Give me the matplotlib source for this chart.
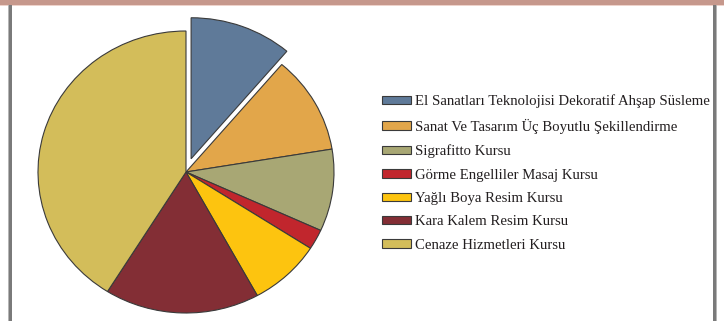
import matplotlib.pyplot as plt
from matplotlib.patches import Rectangle

# course shares (percent of participants)
courses = [
    "El Sanatları Teknolojisi Dekoratif Ahşap Süsleme",
    "Sanat Ve Tasarım Üç Boyutlu Şekillendirme",
    "Sigrafitto Kursu",
    "Görme Engelliler Masaj Kursu",
    "Yağlı Boya Resim Kursu",
    "Kara Kalem Resim Kursu",
    "Cenaze Hizmetleri Kursu",
]
shares = [11.2, 11.2, 9.4, 2.3, 7.9, 16.9, 41.1]
colors = ["#5F7A99", "#E2A64A", "#A8A774", "#C1262D", "#FDC40F", "#832E35", "#D3BD5A"]
explode = [0.1, 0, 0, 0, 0, 0, 0]

W, H = 724, 321
fig = plt.figure(figsize=(W / 100, H / 100), dpi=100)

# page frame: top band and side rules
bg = fig.add_axes([0, 0, 1, 1])
bg.set_xlim(0, W)
bg.set_ylim(H, 0)
bg.axis("off")
bg.add_patch(Rectangle((0, 0), W, 5, color="#C6988C", lw=0))
bg.add_patch(Rectangle((0, 5), W, 1.2, color="#EED3CB", lw=0))
bg.add_patch(Rectangle((8, 5), 4, H, color="#7A7A7A", lw=0))
bg.add_patch(Rectangle((8, 5), 1, H, color="#B5B5B5", lw=0))
bg.add_patch(Rectangle((713, 5), 4, H, color="#7A7A7A", lw=0))
bg.add_patch(Rectangle((716, 5), 1, H, color="#B5B5B5", lw=0))

# pie: slightly wider than tall
cx, cy, rx, ry = 186, 172, 148, 141
pad = 1.2
ax = fig.add_axes([(cx - rx * pad) / W, (H - cy - ry * pad) / H,
                   2 * rx * pad / W, 2 * ry * pad / H])
wedges, _ = ax.pie(shares, colors=colors, explode=explode, startangle=90,
                   counterclock=False,
                   wedgeprops=dict(edgecolor="#3A3A3A", linewidth=0.8))
ax.set_aspect("auto")
ax.set_xlim(-pad, pad)
ax.set_ylim(-pad, pad)
ax.axis("off")

fig.legend(wedges, courses, loc="upper left",
           bbox_to_anchor=(382 / W, 1 - 94.5 / H),
           frameon=False, prop={"family": "Liberation Serif", "size": 10.6},
           labelcolor="#231F20", handlelength=2.0, handleheight=0.5,
           handletextpad=0.27, labelspacing=0.71, borderpad=0,
           borderaxespad=0)

fig.savefig("out.png", dpi=100)
